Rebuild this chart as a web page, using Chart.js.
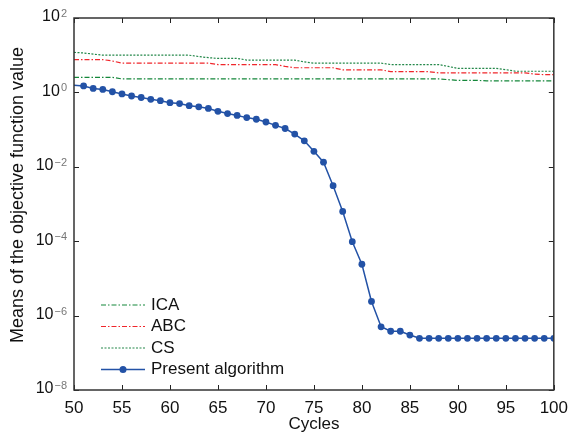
<!DOCTYPE html>
<html>
<head>
<meta charset="utf-8">
<script src="https://cdn.jsdelivr.net/npm/chart.js@4.4.0/dist/chart.umd.min.js"></script>
<style>
  html, body { margin: 0; padding: 0; background: #fff; }
</style>
</head>
<body>
<canvas id="chart" width="576" height="436"></canvas>
<script>
const cycles = [50, 51, 52, 53, 54, 55, 56, 57, 58, 59, 60, 61, 62, 63, 64, 65, 66, 67, 68, 69, 70,
  71, 72, 73, 74, 75, 76, 77, 78, 79, 80, 81, 82, 83, 84, 85, 86, 87, 88, 89, 90,
  91, 92, 93, 94, 95, 96, 97, 98, 99, 100];

const icaValues = [2.55, 2.55, 2.55, 2.55, 2.55, 2.3, 2.3, 2.3, 2.3, 2.3, 2.3,
  2.3, 2.3, 2.3, 2.3, 2.3, 2.3, 2.3, 2.3, 2.3, 2.3,
  2.3, 2.3, 2.3, 2.3, 2.3, 2.3, 2.3, 2.3, 2.3, 2.3,
  2.3, 2.3, 2.3, 2.3, 2.3, 2.3, 2.3, 2.3, 2.2, 2.1,
  2.1, 2.1, 2.05, 2.05, 2.05, 2.05, 2.05, 2.05, 2.05, 2.05];

const abcValues = [7.6, 7.6, 7.6, 7.6, 7.0, 6.1, 6.1, 6.1, 6.1, 6.1, 6.1,
  6.1, 6.1, 6.1, 6.1, 5.6, 5.6, 5.6, 5.6, 5.6, 5.6,
  5.6, 5.0, 4.6, 4.6, 4.6, 4.6, 4.6, 4.05, 4.05, 4.05,
  4.05, 4.05, 3.6, 3.6, 3.6, 3.6, 3.6, 3.35, 3.35, 3.35,
  3.35, 3.35, 3.35, 3.35, 3.35, 3.35, 3.35, 3.1, 3.0, 3.0];

const csValues = [11.9, 11.5, 10.7, 10.0, 10.0, 10.0, 10.0, 10.0, 10.0, 10.0, 10.0,
  10.0, 10.0, 9.2, 8.6, 8.2, 8.2, 8.2, 7.4, 7.4, 7.4,
  7.4, 7.4, 7.4, 6.6, 6.1, 6.1, 6.1, 6.1, 6.1, 6.1,
  6.1, 6.1, 5.6, 5.6, 5.6, 5.6, 5.6, 5.6, 5.0, 4.4,
  4.4, 4.4, 4.4, 4.4, 4.1, 3.7, 3.7, 3.7, 3.7, 3.7];

const presentValues = [1.55, 1.49, 1.28, 1.2, 1.04, 0.91, 0.80, 0.73, 0.65, 0.60, 0.53,
  0.50, 0.44, 0.41, 0.37, 0.31, 0.27, 0.24, 0.21, 0.19, 0.16,
  0.13, 0.107, 0.076, 0.050, 0.026, 0.0133, 0.0031, 6.3e-4, 9.7e-5, 2.4e-5,
  2.4e-6, 5.0e-7, 3.8e-7, 3.8e-7, 3.0e-7, 2.45e-7, 2.45e-7, 2.45e-7, 2.45e-7, 2.45e-7,
  2.45e-7, 2.45e-7, 2.45e-7, 2.45e-7, 2.45e-7, 2.45e-7, 2.45e-7, 2.45e-7, 2.45e-7, 2.45e-7];

const yTickValues = [1e-8, 1e-6, 1e-4, 1e-2, 1e0, 1e2];
const yTitle = 'Means of the objective function value';

const FONT = 'Arial, "Liberation Sans", Helvetica, sans-serif';

function toPoints(values) {
  return cycles.map((c, i) => ({ x: c, y: values[i] }));
}

// box, inward ticks, y labels with exponents, y title, legend inside the plot
const decorations = {
  id: 'decorations',
  afterDraw(chart) {
    const { ctx, chartArea: a, scales } = chart;
    const xs = scales.x, ys = scales.y;
    ctx.save();
    ctx.strokeStyle = '#222';
    ctx.lineWidth = 1;
    ctx.beginPath();
    xs.ticks.forEach(t => {
      const px = Math.round(xs.getPixelForValue(t.value)) + 0.5;
      ctx.moveTo(px, a.bottom); ctx.lineTo(px, a.bottom - 5);
      ctx.moveTo(px, a.top); ctx.lineTo(px, a.top + 5);
    });
    ys.ticks.forEach(t => {
      const py = Math.round(ys.getPixelForValue(t.value)) + 0.5;
      ctx.moveTo(a.left, py); ctx.lineTo(a.left + 5, py);
      ctx.moveTo(a.right, py); ctx.lineTo(a.right - 5, py);
    });
    ctx.stroke();
    ctx.lineWidth = 1.5;
    ctx.strokeStyle = '#333';
    ctx.strokeRect(a.left, a.top, a.right - a.left, a.bottom - a.top);

    // y tick labels as 10^n
    ys.ticks.forEach(t => {
      const py = ys.getPixelForValue(t.value);
      const e = Math.round(Math.log10(t.value));
      const expStr = e < 0 ? '\u2212' + (-e) : String(e);
      ctx.font = '11px ' + FONT;
      const ew = ctx.measureText(expStr).width;
      const right = a.left - 7;
      ctx.fillStyle = '#777';
      ctx.textAlign = 'right';
      ctx.textBaseline = 'alphabetic';
      ctx.fillText(expStr, right, py - 1);
      ctx.font = '16px ' + FONT;
      ctx.fillStyle = '#111';
      ctx.textBaseline = 'middle';
      ctx.fillText('10', right - ew - 1, py - 1);
    });

    // y title, a bit above the middle like the original
    ctx.save();
    ctx.translate(18, (a.top + a.bottom) / 2 - 9);
    ctx.rotate(-Math.PI / 2);
    ctx.font = '18px ' + FONT;
    ctx.fillStyle = '#111';
    ctx.textAlign = 'center';
    ctx.textBaseline = 'middle';
    ctx.fillText(yTitle, 0, 0);
    ctx.restore();

    // legend
    const rows = chart.data.datasets;
    const lx = a.left + 27, lw = 44;
    let ly = a.bottom - 85;
    ctx.font = '17px ' + FONT;
    ctx.textAlign = 'left';
    ctx.textBaseline = 'middle';
    rows.forEach(ds => {
      ctx.save();
      ctx.strokeStyle = ds.borderColor;
      ctx.lineWidth = ds.borderWidth;
      ctx.setLineDash(ds.borderDash || []);
      ctx.beginPath();
      ctx.moveTo(lx, ly); ctx.lineTo(lx + lw, ly);
      ctx.stroke();
      ctx.restore();
      if (ds.legendMarker) {
        ctx.fillStyle = ds.borderColor;
        ctx.beginPath();
        ctx.arc(lx + lw / 2, ly, 3.5, 0, Math.PI * 2);
        ctx.fill();
      }
      ctx.fillStyle = '#111';
      ctx.fillText(ds.label, lx + lw + 6, ly);
      ly += 21.5;
    });
    ctx.restore();
  }
};

new Chart(document.getElementById('chart').getContext('2d'), {
  type: 'line',
  data: {
    datasets: [
      {
        label: 'ICA',
        data: toPoints(icaValues),
        borderColor: '#14873a',
        borderWidth: 1.2,
        borderDash: [5, 2, 1.5, 2],
        pointRadius: 0
      },
      {
        label: 'ABC',
        data: toPoints(abcValues),
        borderColor: '#f0262b',
        borderWidth: 1.2,
        borderDash: [5, 2, 1.5, 2],
        pointRadius: 0
      },
      {
        label: 'CS',
        data: toPoints(csValues),
        borderColor: '#24884a',
        borderWidth: 1.2,
        borderDash: [2, 1.5],
        pointRadius: 0
      },
      {
        label: 'Present algorithm',
        data: toPoints(presentValues),
        borderColor: '#2352a6',
        backgroundColor: '#2352a6',
        borderWidth: 1.5,
        pointRadius: ctx => ctx.dataIndex === 0 ? 0 : 3.4,
        pointBorderWidth: 0,
        legendMarker: true
      }
    ]
  },
  options: {
    responsive: false,
    animation: false,
    devicePixelRatio: 1,
    layout: { padding: { top: 18, right: 20, left: 0, bottom: 0 } },
    elements: { line: { tension: 0 } },
    plugins: { legend: { display: false }, tooltip: { enabled: false } },
    scales: {
      x: {
        type: 'linear',
        min: 50,
        max: 100,
        grid: { display: false, drawTicks: false },
        border: { display: false },
        ticks: { stepSize: 5, padding: 8, color: '#111', font: { size: 17, family: FONT } },
        title: { display: true, text: 'Cycles', color: '#111', font: { size: 17, family: FONT }, padding: { top: 0, bottom: 1 } },
        afterFit: s => { s.height = 46; }
      },
      y: {
        type: 'logarithmic',
        min: 1e-8,
        max: 1e2,
        grid: { display: false, drawTicks: false },
        border: { display: false },
        ticks: { display: false },
        afterBuildTicks: s => { s.ticks = yTickValues.map(v => ({ value: v })); },
        title: { display: false },
        afterFit: s => { s.width = 74; }
      }
    }
  },
  plugins: [decorations]
});
</script>
</body>
</html>
